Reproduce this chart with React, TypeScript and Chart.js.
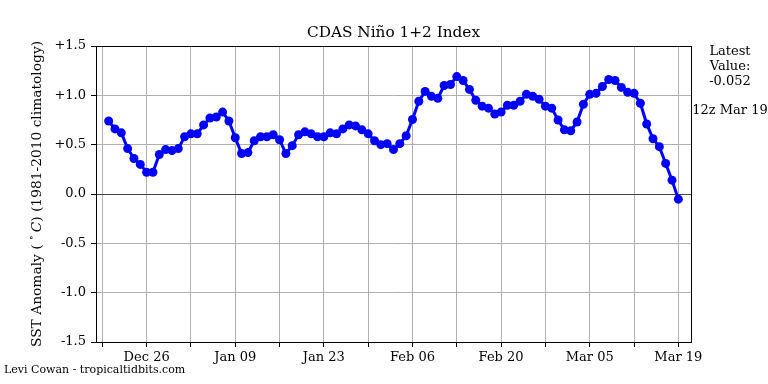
import React, { useEffect, useRef } from "react";
import { Chart, registerables } from "chart.js";

Chart.register(...registerables);

// Daily SST anomaly, 12z Dec 20 2023 .. 12z Mar 19 2024 (day 1 .. day 91, day 0 = Dec 19)
const ANOMALY: number[] = [
  0.74, 0.66, 0.62, 0.46, 0.36, 0.30, 0.22, 0.22, 0.40, 0.45, 0.44, 0.46, 0.58, 0.61,
  0.61, 0.70, 0.77, 0.78, 0.83, 0.74, 0.57, 0.41, 0.42, 0.54, 0.58, 0.58, 0.60, 0.55,
  0.41, 0.49, 0.60, 0.63, 0.61, 0.58, 0.58, 0.62, 0.61, 0.66, 0.70, 0.69, 0.65, 0.61, 0.54, 0.50,
  0.51, 0.45, 0.51, 0.59, 0.755, 0.94, 1.04, 0.99, 0.97, 1.10, 1.11, 1.19, 1.15, 1.06, 0.95,
  0.89, 0.87, 0.81, 0.83, 0.90, 0.90, 0.94, 1.01, 0.99, 0.96, 0.89, 0.87, 0.75, 0.65, 0.64,
  0.73, 0.91, 1.01, 1.02, 1.09, 1.16, 1.15, 1.08, 1.03, 1.02, 0.92, 0.71, 0.56, 0.48, 0.31, 0.14, -0.052,
];
const FIRST_DAY = 1;

// weekly ticks (day offsets from Dec 19); labelled ones every two weeks
const TICK_DAYS: number[] = [0, 7, 14, 21, 28, 35, 42, 49, 56, 63, 70, 77, 84, 91];
const TICK_LABELS: string[] = ["", "Dec 26", "", "Jan 09", "", "Jan 23", "", "Feb 06", "", "Feb 20", "", "Mar 05", "", "Mar 19"];
const Y_TICKS: number[] = [-1.5, -1.0, -0.5, 0.0, 0.5, 1.0, 1.5];
const Y_LABELS: string[] = ["-1.5", "-1.0", "-0.5", "0.0", "+0.5", "+1.0", "+1.5"];

const TITLE = "CDAS Niño 1+2 Index";
const LATEST_VALUE = "-0.052";
const LATEST_TIME = "12z Mar 19";
const CREDIT = "Levi Cowan - tropicaltidbits.com";

const FONT = "'DejaVu Serif', serif";

export default function App() {
  const ref = useRef<HTMLCanvasElement | null>(null);
  useEffect(() => {
    if (!ref.current) return;
    const points = ANOMALY.map((v, i) => ({ x: FIRST_DAY + i, y: v }));
    const decor = {
      id: "decor",
      beforeDatasetsDraw(chart: any) {
        const { ctx, chartArea } = chart;
        const y0 = chart.scales.y.getPixelForValue(0);
        ctx.save();
        ctx.strokeStyle = "#444444";
        ctx.lineWidth = 1.2;
        ctx.beginPath();
        ctx.moveTo(chartArea.left, Math.round(y0) + 0.5);
        ctx.lineTo(chartArea.right, Math.round(y0) + 0.5);
        ctx.stroke();
        ctx.restore();
      },
      afterDraw(chart: any) {
        const { ctx, chartArea } = chart;
        ctx.save();
        ctx.strokeStyle = "#000";
        ctx.lineWidth = 1;
        ctx.strokeRect(Math.round(chartArea.left) + 0.5, Math.round(chartArea.top) + 0.5,
          Math.round(chartArea.right - chartArea.left), Math.round(chartArea.bottom - chartArea.top));
        ctx.fillStyle = "#000";
        ctx.textAlign = "center";
        ctx.textBaseline = "middle";
        ctx.font = `15.3px ${FONT}`;
        ctx.fillText(TITLE, (chartArea.left + chartArea.right) / 2, 33);
        ctx.font = `13px ${FONT}`;
        ctx.fillText("Latest", 730, 52);
        ctx.fillText("Value:", 730, 67);
        ctx.fillText(LATEST_VALUE, 730, 82);
        ctx.fillText(LATEST_TIME, 730, 111);
        ctx.textAlign = "left";
        ctx.font = `11px ${FONT}`;
        ctx.fillText(CREDIT, 4, 370);
        // y axis label with superscript degree and italic C
        ctx.save();
        ctx.translate(37, 194);
        ctx.rotate(-Math.PI / 2);
        const parts: { t: string; f: string; dy: number }[] = [
          { t: "SST Anomaly ( ", f: `13.8px ${FONT}`, dy: 0 },
          { t: "∘", f: `9.5px ${FONT}`, dy: -5 },
          { t: "C", f: `italic 13.8px ${FONT}`, dy: 0 },
          { t: ") (1981-2010 climatology)", f: `13.8px ${FONT}`, dy: 0 },
        ];
        let total = 0;
        for (const p of parts) { ctx.font = p.f; total += ctx.measureText(p.t).width; }
        total += 3;
        let x = -total / 2;
        ctx.textAlign = "left";
        parts.forEach((p, i) => {
          ctx.font = p.f;
          ctx.fillText(p.t, x, p.dy);
          x += ctx.measureText(p.t).width + (i === 1 ? 3 : 0);
        });
        ctx.restore();
        ctx.restore();
      },
    };
    const chart = new Chart(ref.current, {
      type: "line",
      data: {
        datasets: [
          {
            data: points,
            borderColor: "#0000ff",
            backgroundColor: "#0000ff",
            borderWidth: 3,
            pointRadius: 4.5,
            pointBorderWidth: 0,
            pointBackgroundColor: "#0000ff",
            tension: 0,
          },
        ],
      },
      options: {
        responsive: false,
        animation: false,
        layout: { padding: { left: 0, right: 77, top: 46, bottom: 0 } },
        plugins: { legend: { display: false }, tooltip: { enabled: false }, title: { display: false } },
        scales: {
          x: {
            type: "linear",
            min: -1,
            max: 93,
            afterBuildTicks: (s: any) => { s.ticks = TICK_DAYS.map((v) => ({ value: v })); },
            afterFit: (s: any) => { s.height = 42; },
            ticks: {
              autoSkip: false,
              maxRotation: 0,
              padding: 3,
              color: "#000",
              font: { family: FONT, size: 13 },
              callback: (v: any) => { const i = TICK_DAYS.indexOf(Number(v)); return i >= 0 ? TICK_LABELS[i] : ""; },
            },
            grid: { color: "#b0b0b0", lineWidth: 1, tickLength: 5, tickColor: "#000", drawTicks: true },
            border: { display: false },
          },
          y: {
            min: -1.5,
            max: 1.5,
            afterBuildTicks: (s: any) => { s.ticks = Y_TICKS.map((v) => ({ value: v })); },
            afterFit: (s: any) => { s.width = 96; },
            ticks: {
              padding: 5,
              color: "#000",
              font: { family: FONT, size: 13 },
              callback: (v: any) => { const i = Y_TICKS.indexOf(Number(v)); return i >= 0 ? Y_LABELS[i] : ""; },
            },
            grid: { color: "#b0b0b0", lineWidth: 1, tickLength: 5, tickColor: "#000" },
            border: { display: false },
          },
        },
      },
      plugins: [decor],
    } as any);
    return () => chart.destroy();
  }, []);
  return (
    <div style={{ position: "fixed", left: 0, top: 0, width: 768, height: 384, background: "#fff" }}>
      <canvas ref={ref} width={768} height={384} style={{ width: 768, height: 384 }} />
    </div>
  );
}
